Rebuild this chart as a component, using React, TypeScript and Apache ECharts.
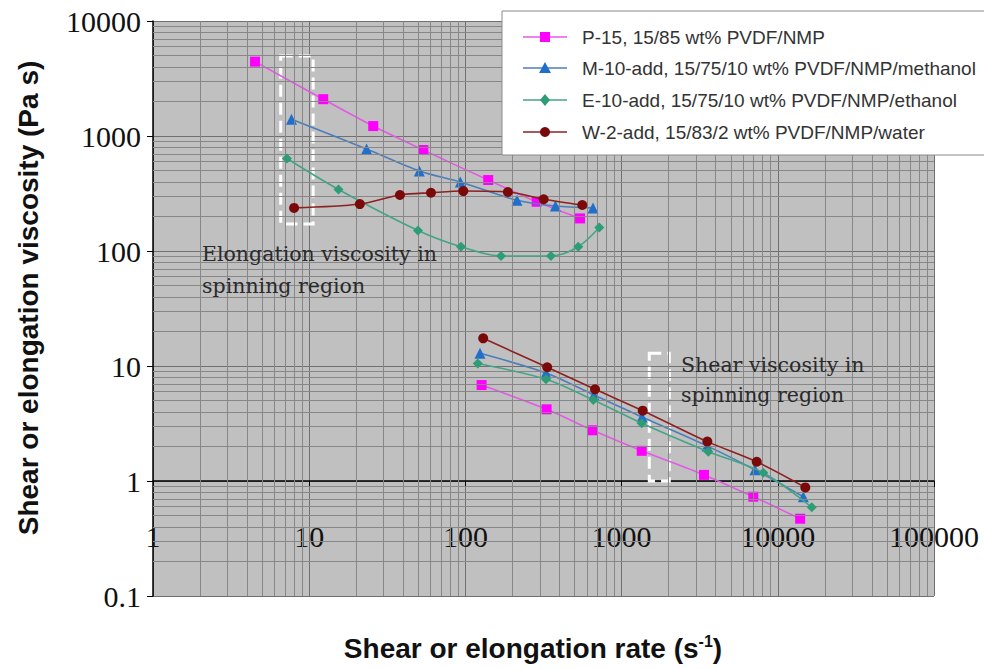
import { useEffect, useRef } from "react";
import * as echarts from "echarts";

// ---- data ----
const seriesNames = [
  "P-15, 15/85 wt% PVDF/NMP",
  "M-10-add, 15/75/10 wt% PVDF/NMP/methanol",
  "E-10-add, 15/75/10 wt% PVDF/NMP/ethanol",
  "W-2-add, 15/83/2 wt% PVDF/NMP/water",
];

// elongation (spinning) region
const p15ElongRate = [4.5, 12.3, 25.7, 53.8, 140, 286, 542];
const p15ElongVisc = [4430, 2090, 1220, 755, 414, 268, 192];
const m10ElongRate = [7.7, 23.3, 50.7, 92.8, 214, 377, 656];
const m10ElongVisc = [1400, 771, 497, 398, 276, 246, 237];
const e10ElongRate = [7.2, 15.4, 49.7, 93.7, 169, 353, 528, 720];
const e10ElongVisc = [637, 343, 151, 109, 90.5, 90.5, 109, 160];
const w2ElongRate = [8.0, 21.1, 38.1, 60.2, 97, 187, 317, 560];
const w2ElongVisc = [237, 256, 307, 321, 332, 326, 282, 251];

// shear region
const p15ShearRate = [127, 331, 653, 1345, 3370, 6970, 13900];
const p15ShearVisc = [6.83, 4.2, 2.76, 1.83, 1.13, 0.73, 0.47];
const m10ShearRate = [124, 328, 665, 1351, 3520, 7140, 14560];
const m10ShearVisc = [12.9, 8.7, 5.6, 3.6, 2.02, 1.25, 0.73];
const e10ShearRate = [120, 328, 659, 1345, 3590, 8080, 16500];
const e10ShearVisc = [10.5, 7.66, 5.06, 3.18, 1.8, 1.18, 0.59];
const w2ShearRate = [130, 334, 676, 1365, 3540, 7330, 15000];
const w2ShearVisc = [17.4, 9.75, 6.27, 4.09, 2.2, 1.47, 0.88];

// axes
const xTickLabels = ["1", "10", "100", "1000", "10000", "100000"];
const yTickLabels = ["0.1", "1", "10", "100", "1000", "10000"];
const minorSteps = [2, 3, 4, 5, 6, 7, 8, 9];
const xDecades = [1, 10, 100, 1000, 10000];
const yDecades = [0.1, 1, 10, 100, 1000];

// dashed annotation boxes (data coords: [rate, viscosity])
const boxElong = [[6.57, 4960], [10.6, 172]];
const boxShear = [[1504, 12.9], [2020, 1.0]];

const zip = (xs: number[], ys: number[]) => xs.map((x, i) => [x, ys[i]]);

const styles = [
  { marker: "#FF00FF", line: "#E45AE4", symbol: "rect", size: 10, z: 3 },
  { marker: "#1F6FCB", line: "#4A7EBB", symbol: "triangle", size: 11, z: 4 },
  { marker: "#2E9C74", line: "#45A487", symbol: "diamond", size: 10, z: 5 },
  { marker: "#7A0A0A", line: "#8E2020", symbol: "circle", size: 10, z: 6 },
];

const dataSets = [
  [p15ElongRate, p15ElongVisc, p15ShearRate, p15ShearVisc],
  [m10ElongRate, m10ElongVisc, m10ShearRate, m10ShearVisc],
  [e10ElongRate, e10ElongVisc, e10ShearRate, e10ShearVisc],
  [w2ElongRate, w2ElongVisc, w2ShearRate, w2ShearVisc],
];

function makeSeries(name: string, xs: number[], ys: number[], st: any) {
  return {
    type: "line",
    name,
    data: zip(xs, ys),
    symbol: st.symbol,
    symbolSize: st.size,
    smooth: 0.3,
    lineStyle: { color: st.line, width: 1.6 },
    itemStyle: { color: st.marker },
    z: st.z,
    emphasis: { disabled: true },
  };
}

function labelFor(labels: string[], minExp: number) {
  return (v: number) => {
    const e = Math.round(Math.log10(v));
    return labels[e - minExp] ?? String(v);
  };
}

const LZ = 30;

function legendSymbol(kind: string, cx: number, cy: number, color: string) {
  if (kind === "rect")
    return { type: "rect", z: LZ + 2, shape: { x: cx - 5, y: cy - 5, width: 10, height: 10 }, style: { fill: color } };
  if (kind === "triangle")
    return { type: "polygon", z: LZ + 2, shape: { points: [[cx, cy - 6], [cx + 6, cy + 5], [cx - 6, cy + 5]] }, style: { fill: color } };
  if (kind === "diamond")
    return { type: "polygon", z: LZ + 2, shape: { points: [[cx, cy - 6], [cx + 5, cy], [cx, cy + 6], [cx - 5, cy]] }, style: { fill: color } };
  return { type: "circle", z: LZ + 2, shape: { cx, cy, r: 5 }, style: { fill: color } };
}

export default function App() {
  const ref = useRef<HTMLDivElement>(null);
  useEffect(() => {
    if (!ref.current) return;
    const chart = echarts.init(ref.current, undefined, { renderer: "svg" });

    const minorX: any[] = [];
    xDecades.forEach((d) => minorSteps.forEach((m) => minorX.push({ xAxis: d * m })));
    const minorY: any[] = [];
    yDecades.forEach((d) => minorSteps.forEach((m) => minorY.push({ yAxis: +(d * m).toPrecision(6) })));

    const series: any[] = [
      {
        type: "line",
        name: "minor-grid",
        data: [],
        silent: true,
        z: 1,
        markLine: {
          silent: true,
          symbol: ["none", "none"],
          label: { show: false },
          lineStyle: { color: "#878787", width: 1, type: "solid" },
          emphasis: { disabled: true },
          data: [...minorX, ...minorY],
        },
        markArea: {
          silent: true,
          itemStyle: {
            color: "rgba(0,0,0,0)",
            borderColor: "#ffffff",
            borderWidth: 3,
            borderType: [12, 6],
          },
          data: [
            [{ coord: boxElong[0] }, { coord: boxElong[1] }],
            [{ coord: boxShear[0] }, { coord: boxShear[1] }],
          ],
        },
      },
    ];
    seriesNames.forEach((n, i) => {
      const [ex, ey, sx, sy] = dataSets[i];
      series.push(makeSeries(n, ex, ey, styles[i]));
      series.push(makeSeries(n, sx, sy, styles[i]));
    });

    // hand-built legend box (Excel-like)
    const legendChildren: any[] = [
      {
        type: "rect",
        z: LZ,
        shape: { x: 502, y: 11, width: 490, height: 144 },
        style: { fill: "#ffffff", stroke: "#8a8a8a", lineWidth: 1 },
      },
    ];
    const centers = [37, 68, 100, 132];
    seriesNames.forEach((n, i) => {
      const c = centers[i];
      legendChildren.push({
        type: "line",
        z: LZ + 1,
        shape: { x1: 523, y1: c, x2: 567, y2: c },
        style: { stroke: styles[i].line, lineWidth: 1.5 },
      });
      legendChildren.push(legendSymbol(styles[i].symbol, 545, c, styles[i].marker));
      legendChildren.push({
        type: "text",
        z: LZ + 1,
        x: 582,
        y: c,
        style: {
          text: n,
          font: '19px "Liberation Sans"',
          fill: "#333",
          verticalAlign: "middle",
          align: "left",
        },
      });
    });

    chart.setOption({
      animation: false,
      backgroundColor: "#ffffff",
      grid: {
        left: 153,
        top: 21,
        width: 781,
        height: 575,
        show: true,
        backgroundColor: "#C0C0C0",
        borderWidth: 0,
      },
      xAxis: {
        type: "log",
        logBase: 10,
        min: 1,
        max: 100000,
        position: "bottom",
        offset: -115,
        axisLine: { show: true, lineStyle: { color: "#000", width: 1.5 } },
        axisTick: { show: true, inside: false, length: 6, lineStyle: { color: "#000" } },
        axisLabel: {
          formatter: labelFor(xTickLabels, 0),
          fontFamily: "Liberation Serif",
          fontSize: 30,
          color: "#111",
          margin: 40,
          showMinLabel: true,
          showMaxLabel: true,
        },
        splitLine: { show: true, lineStyle: { color: "#707070", width: 1 } },
      },
      yAxis: {
        type: "log",
        logBase: 10,
        min: 0.1,
        max: 10000,
        axisLine: { show: true, lineStyle: { color: "#000", width: 1.5 } },
        axisTick: { show: true, inside: false, length: 6, lineStyle: { color: "#000" } },
        axisLabel: {
          formatter: labelFor(yTickLabels, -1),
          fontFamily: "Liberation Serif",
          fontSize: 30,
          color: "#111",
          margin: 12,
          showMinLabel: true,
          showMaxLabel: true,
        },
        splitLine: { show: true, lineStyle: { color: "#707070", width: 1 } },
      },
      graphic: [
        { type: "group", z: LZ, children: legendChildren },
        {
          type: "text",
          left: 202,
          top: 238,
          z: 10,
          style: {
            text: "Elongation viscosity in\nspinning region",
            font: '20.5px "DejaVu Serif"',
            lineHeight: 32,
            fill: "#2a2a2a",
          },
        },
        {
          type: "text",
          left: 681,
          top: 350,
          z: 10,
          style: {
            text: "Shear viscosity in\nspinning region",
            font: '20.5px "DejaVu Serif"',
            lineHeight: 30,
            fill: "#2a2a2a",
          },
        },
        {
          type: "text",
          x: 28,
          y: 298,
          rotation: Math.PI / 2,
          style: {
            text: "Shear or elongation viscosity (Pa s)",
            font: 'bold 28px "Liberation Sans"',
            fill: "#111",
            align: "center",
            verticalAlign: "middle",
          },
        },
        {
          type: "text",
          x: 533,
          y: 648,
          style: {
            text: "Shear or elongation rate (s{sup|-1})",
            font: 'bold 28px "Liberation Sans"',
            fill: "#111",
            align: "center",
            verticalAlign: "middle",
            rich: {
              sup: {
                fontFamily: "Liberation Sans",
                fontWeight: "bold",
                fontSize: 16,
                fill: "#111",
                verticalAlign: "top",
                padding: [0, 0, 14, 0],
              },
            },
          },
        },
      ],
      series,
    });
    return () => chart.dispose();
  }, []);
  return (
    <div
      ref={ref}
      style={{ position: "fixed", left: 0, top: 0, width: 984, height: 669 }}
    />
  );
}
